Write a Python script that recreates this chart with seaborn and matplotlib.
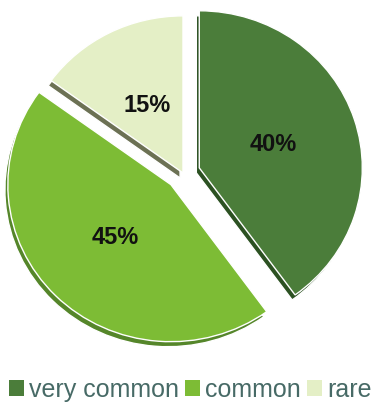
import seaborn as sns
import matplotlib.pyplot as plt
from matplotlib.patches import Patch

sns.set_style("white")
plt.rcParams["font.family"] = ["Liberation Sans", "DejaVu Sans"]

labels = ["very common", "common", "rare"]
values = [40, 45, 15]
colors = ["#4b7d3a", "#7dbc35", "#e4efc6"]
edge_colors = ["#2c5122", "#55862a", "#6c7154"]

fig = plt.figure(figsize=(3.86, 4.11), dpi=100)
ax = fig.add_axes([-0.0117, 0.1397, 0.9715, 0.879])

explode = [0.105, 0.105, 0.0]

# darker copy underneath for the 3D edge
ax.pie(values, colors=edge_colors, startangle=90, counterclock=False,
       explode=explode, center=(-0.018, -0.032), radius=1.0)

wedges, texts, autotexts = ax.pie(
    values, colors=colors, startangle=90, counterclock=False,
    explode=explode, autopct="%d%%", pctdistance=0.48,
    textprops={"fontsize": 17, "fontweight": "bold", "color": "#111111"})

ax.set_aspect("auto")
ax.set_xlim(-1.15, 1.15)
ax.set_ylim(-1.15, 1.15)

handles = [Patch(facecolor=c, edgecolor="none") for c in colors]
fig.legend(handles, labels, loc="center", ncol=3, frameon=False,
           bbox_to_anchor=(0.492, 21 / 411), fontsize=18, handlelength=0.6,
           handleheight=0.6, handletextpad=0.2, columnspacing=0.25,
           labelcolor="#476a66", borderpad=0, borderaxespad=0)

plt.savefig("out.png", dpi=100)
